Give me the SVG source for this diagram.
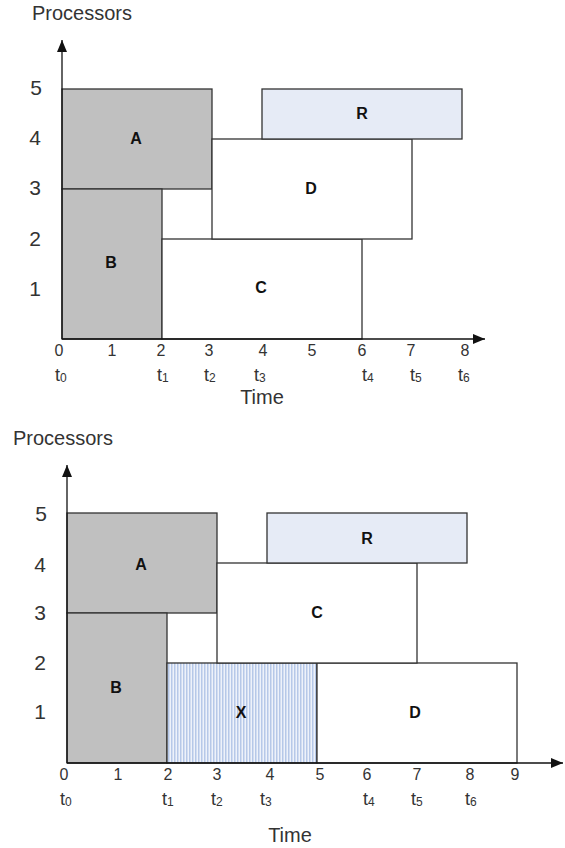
<svg xmlns="http://www.w3.org/2000/svg" width="565" height="848" viewBox="0 0 565 848">
  <style>
    .bg { fill: #ffffff; }
    .task { stroke: #333333; stroke-width: 1.3; }
    .busy { fill: #c0c0c0; }
    .free { fill: #ffffff; }
    .res { fill: #e6ebf6; }
    .axis { stroke: #111111; stroke-width: 1.3; fill: none; }
    .name { font-family: "Liberation Sans", Arial, sans-serif; font-weight: bold; font-size: 16px; fill: #111111; text-anchor: middle; }
    .big { font-family: "Liberation Sans", Arial, sans-serif; font-size: 20px; fill: #333333; }
    .tick { font-family: "Liberation Sans", Arial, sans-serif; font-size: 16px; fill: #333333; text-anchor: middle; }
    .tl { font-family: "Liberation Sans", Arial, sans-serif; font-size: 18px; fill: #333333; }
    .ylab { font-family: "Liberation Sans", Arial, sans-serif; font-size: 21px; fill: #333333; text-anchor: middle; }
    .sub { font-size: 12px; }
  </style>
  <defs>
    <pattern id="stripes" width="3" height="10" patternUnits="userSpaceOnUse">
      <rect width="3" height="10" fill="#eef2fa"/>
      <rect width="1.5" height="10" fill="#b6c8e8"/>
    </pattern>
    <marker id="arrow" viewBox="0 0 12 10" refX="12" refY="5" markerWidth="12" markerHeight="10" markerUnits="userSpaceOnUse" orient="auto">
      <path d="M0,0 L12,5 L0,10 Z" fill="#111111"/>
    </marker>
  </defs>

  <rect class="bg" width="565" height="848"/>

  <!-- Upper schedule -->
  <g id="top-chart">
    <text class="big" x="32" y="20">Processors</text>
    <g id="top-A"><rect class="task busy" x="62" y="89" width="150" height="100"/><text class="name" x="136" y="144">A</text></g>
    <g id="top-B"><rect class="task busy" x="62" y="189" width="100" height="150"/><text class="name" x="111" y="268">B</text></g>
    <g id="top-C"><rect class="task free" x="162" y="239" width="200" height="100"/><text class="name" x="261" y="293">C</text></g>
    <g id="top-D"><rect class="task free" x="212" y="139" width="200" height="100"/><text class="name" x="311" y="194">D</text></g>
    <g id="top-R"><rect class="task res" x="262" y="89" width="200" height="50"/><text class="name" x="362" y="119">R</text></g>

    <g id="top-axes">
      <line class="axis" x1="62" y1="339" x2="62" y2="40" marker-end="url(#arrow)"/>
      <line class="axis" x1="62" y1="339" x2="485" y2="339" marker-end="url(#arrow)"/>
    </g>

    <g id="top-ylabels">
      <text class="ylab" x="36" y="95">5</text>
      <text class="ylab" x="35" y="145">4</text>
      <text class="ylab" x="35" y="195">3</text>
      <text class="ylab" x="35" y="246">2</text>
      <text class="ylab" x="35" y="296">1</text>
    </g>
    <g id="top-xlabels">
      <text class="tick" x="59" y="356">0</text>
      <text class="tick" x="112" y="356">1</text>
      <text class="tick" x="161" y="356">2</text>
      <text class="tick" x="209" y="356">3</text>
      <text class="tick" x="263" y="356">4</text>
      <text class="tick" x="312" y="356">5</text>
      <text class="tick" x="362" y="356">6</text>
      <text class="tick" x="411" y="356">7</text>
      <text class="tick" x="465" y="356">8</text>
    </g>
    <g id="top-tlabels">
      <text class="tl" x="55" y="381">t<tspan class="sub" dy="1">0</tspan></text>
      <text class="tl" x="157" y="381">t<tspan class="sub" dy="1">1</tspan></text>
      <text class="tl" x="204" y="381">t<tspan class="sub" dy="1">2</tspan></text>
      <text class="tl" x="254" y="381">t<tspan class="sub" dy="1">3</tspan></text>
      <text class="tl" x="362" y="381">t<tspan class="sub" dy="1">4</tspan></text>
      <text class="tl" x="410" y="381">t<tspan class="sub" dy="1">5</tspan></text>
      <text class="tl" x="458" y="381">t<tspan class="sub" dy="1">6</tspan></text>
    </g>
    <text class="big" x="262" y="404" text-anchor="middle">Time</text>
  </g>

  <!-- Lower schedule -->
  <g id="bottom-chart">
    <text class="big" x="13" y="445">Processors</text>
    <g id="bot-A"><rect class="task busy" x="67" y="513" width="150" height="100"/><text class="name" x="141" y="570">A</text></g>
    <g id="bot-B"><rect class="task busy" x="67" y="613" width="100" height="150"/><text class="name" x="116" y="693">B</text></g>
    <g id="bot-X"><rect class="task" fill="url(#stripes)" x="167" y="663" width="150" height="100"/><text class="name" x="241" y="718">X</text></g>
    <g id="bot-D"><rect class="task free" x="317" y="663" width="200" height="100"/><text class="name" x="415" y="718">D</text></g>
    <g id="bot-C"><rect class="task free" x="217" y="563" width="200" height="100"/><text class="name" x="317" y="618">C</text></g>
    <g id="bot-R"><rect class="task res" x="267" y="513" width="200" height="50"/><text class="name" x="367" y="544">R</text></g>

    <g id="bottom-axes">
      <line class="axis" x1="67" y1="763" x2="67" y2="465" marker-end="url(#arrow)"/>
      <line class="axis" x1="67" y1="763" x2="563" y2="763" marker-end="url(#arrow)"/>
    </g>

    <g id="bot-ylabels">
      <text class="ylab" x="41" y="521">5</text>
      <text class="ylab" x="40" y="572">4</text>
      <text class="ylab" x="40" y="620">3</text>
      <text class="ylab" x="40" y="670">2</text>
      <text class="ylab" x="40" y="719">1</text>
    </g>
    <g id="bot-xlabels">
      <text class="tick" x="64" y="780">0</text>
      <text class="tick" x="118" y="780">1</text>
      <text class="tick" x="168" y="780">2</text>
      <text class="tick" x="217" y="780">3</text>
      <text class="tick" x="270" y="780">4</text>
      <text class="tick" x="320" y="780">5</text>
      <text class="tick" x="367" y="780">6</text>
      <text class="tick" x="417" y="780">7</text>
      <text class="tick" x="470" y="780">8</text>
      <text class="tick" x="515" y="780">9</text>
    </g>
    <g id="bot-tlabels">
      <text class="tl" x="60" y="805">t<tspan class="sub" dy="1">0</tspan></text>
      <text class="tl" x="162" y="805">t<tspan class="sub" dy="1">1</tspan></text>
      <text class="tl" x="211" y="805">t<tspan class="sub" dy="1">2</tspan></text>
      <text class="tl" x="260" y="805">t<tspan class="sub" dy="1">3</tspan></text>
      <text class="tl" x="363" y="805">t<tspan class="sub" dy="1">4</tspan></text>
      <text class="tl" x="411" y="805">t<tspan class="sub" dy="1">5</tspan></text>
      <text class="tl" x="465" y="805">t<tspan class="sub" dy="1">6</tspan></text>
    </g>
    <text class="big" x="290" y="842" text-anchor="middle">Time</text>
  </g>
</svg>
